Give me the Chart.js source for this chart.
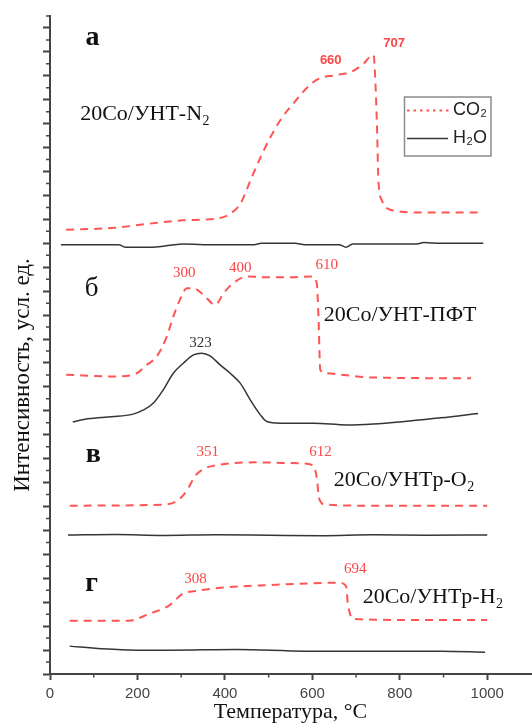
<!DOCTYPE html>
<html lang="ru">
<head>
<meta charset="utf-8">
<title>ТПО 20Co/УНТ</title>
<script src="https://cdn.jsdelivr.net/npm/chart.js@4.4.1/dist/chart.umd.min.js"></script>
<style>
    html, body { margin: 0; padding: 0; background: #fff; }
    canvas { display: block; }
</style>
</head>
<body>
<canvas id="tpoChart" width="532" height="725"></canvas>
<script>
// ---- данные (температура, °C / интенсивность, усл. ед. со смещением панелей) ----

// а: 20Co/УНТ-N2
const tempA_CO2 = [37, 149, 227, 304, 382, 413, 436, 459, 483, 506, 529, 560, 591, 615, 653, 692, 715, 740, 744, 748, 751, 759, 778, 854, 991];
const intA_CO2  = [37.13, 37.30, 37.64, 37.92, 38.07, 38.49, 39.34, 41.32, 43.31, 45.00, 46.42, 47.84, 49.12, 49.77, 50.05, 50.39, 50.96, 51.75, 49.6, 45.5, 41.3, 39.6, 38.8, 38.57, 38.57];
const tempA_H2O = [25, 157, 172, 235, 304, 351, 467, 483, 560, 583, 661, 677, 692, 739, 839, 855, 894, 991];
const intA_H2O  = [35.89, 35.89, 35.67, 35.67, 35.95, 35.89, 35.89, 36.0, 36.0, 35.89, 35.89, 35.67, 35.95, 35.95, 35.95, 36.06, 36.0, 36.0];

// б: 20Co/УНТ-ПФТ
const tempB_CO2 = [37, 149, 196, 221, 244, 267, 282, 297, 313, 328, 351, 378, 397, 419, 450, 488, 549, 599, 610, 614, 618, 633, 671, 739, 963];
const intB_CO2  = [25.01, 24.87, 25.09, 25.84, 26.53, 28.20, 29.87, 31.27, 32.25, 32.25, 31.69, 30.85, 31.83, 32.67, 33.22, 33.17, 33.17, 33.22, 32.67, 29.87, 25.42, 25.14, 25.0, 24.78, 24.72];
const tempB_H2O = [52, 87, 141, 188, 214, 236, 259, 282, 305, 328, 347, 366, 389, 412, 435, 458, 481, 496, 526, 603, 679, 739, 816, 894, 979];
const intB_H2O  = [21.07, 21.33, 21.50, 21.70, 22.07, 22.63, 23.75, 25.14, 25.98, 26.67, 26.81, 26.59, 25.84, 25.14, 24.31, 22.91, 21.66, 21.10, 20.96, 20.96, 20.82, 20.9, 21.13, 21.41, 21.78];

// в: 20Co/УНТр-O2
const tempC_CO2 = [45, 258, 289, 312, 332, 351, 390, 467, 576, 603, 611, 615, 630, 739, 1000];
const intC_CO2  = [14.07, 14.16, 14.44, 15.28, 16.56, 17.13, 17.50, 17.69, 17.61, 17.41, 16.14, 14.72, 14.16, 14.07, 14.07];
const tempC_H2O = [41, 150, 260, 380, 500, 620, 740, 860, 1000];
const intC_H2O  = [11.61, 11.66, 11.58, 11.64, 11.6, 11.56, 11.63, 11.6, 11.62];

// г: 20Co/УНТр-H2
const tempD_CO2 = [45, 180, 227, 273, 304, 332, 390, 506, 661, 677, 681, 684, 692, 816, 1000];
const intD_CO2  = [4.46, 4.46, 5.03, 5.74, 6.72, 6.93, 7.21, 7.44, 7.63, 7.35, 5.94, 5.31, 4.60, 4.52, 4.52];
const tempD_H2O = [45, 118, 196, 273, 428, 584, 739, 894, 995];
const intD_H2O  = [2.33, 2.11, 1.99, 1.99, 2.05, 1.91, 1.91, 1.91, 1.82];

// оси
const xTicksMajor = [0, 200, 400, 600, 800, 1000];
const xTicksMinor = [100, 300, 500, 700, 900];
const xTitle = 'Температура, °C';
const yTitle = 'Интенсивность, усл. ед.';

// подписи на графике: t — температура, v — интенсивность
const notes = [
    { text: 'а', t: 97, v: 52.6, font: 'bold 28px "Liberation Serif"', color: '#111', align: 'center', base: 'alphabetic' },
    { text: '20Co/УНТ-N_2', t: 69, v: 46.3, font: '22px "Liberation Serif"', color: '#111', align: 'left', base: 'alphabetic' },
    { text: '660', t: 642, v: 51.3, font: 'bold 13px "Liberation Sans"', color: '#ff4545', align: 'center', base: 'middle' },
    { text: '707', t: 787, v: 52.7, font: 'bold 13px "Liberation Sans"', color: '#ff4545', align: 'center', base: 'middle' },

    { text: 'б', t: 95, v: 31.6, font: '27px "Liberation Serif"', color: '#111', align: 'center', base: 'alphabetic' },
    { text: '20Co/УНТ-ПФТ', t: 626, v: 29.5, font: '22px "Liberation Serif"', color: '#111', align: 'left', base: 'alphabetic' },
    { text: '300', t: 307, v: 33.5, font: '15px "Liberation Serif"', color: '#ff4545', align: 'center', base: 'middle' },
    { text: '400', t: 435, v: 33.9, font: '15px "Liberation Serif"', color: '#ff4545', align: 'center', base: 'middle' },
    { text: '610', t: 633, v: 34.2, font: '15px "Liberation Serif"', color: '#ff4545', align: 'center', base: 'middle' },
    { text: '323', t: 344, v: 27.65, font: '15px "Liberation Serif"', color: '#333', align: 'center', base: 'middle' },

    { text: 'в', t: 99, v: 17.7, font: 'bold 28px "Liberation Serif"', color: '#111', align: 'center', base: 'alphabetic' },
    { text: '20Co/УНТр-O_2', t: 649, v: 15.7, font: '22px "Liberation Serif"', color: '#111', align: 'left', base: 'alphabetic' },
    { text: '351', t: 361, v: 18.55, font: '15px "Liberation Serif"', color: '#ff4545', align: 'center', base: 'middle' },
    { text: '612', t: 618.5, v: 18.55, font: '15px "Liberation Serif"', color: '#ff4545', align: 'center', base: 'middle' },

    { text: 'г', t: 95, v: 6.94, font: 'bold 28px "Liberation Serif"', color: '#111', align: 'center', base: 'alphabetic' },
    { text: '20Co/УНТр-H_2', t: 715, v: 5.94, font: '22px "Liberation Serif"', color: '#111', align: 'left', base: 'alphabetic' },
    { text: '308', t: 333, v: 7.92, font: '15px "Liberation Serif"', color: '#ff4545', align: 'center', base: 'middle' },
    { text: '694', t: 698, v: 8.78, font: '15px "Liberation Serif"', color: '#ff4545', align: 'center', base: 'middle' }
];

const CO2_COLOR = '#ff5454';
const H2O_COLOR = '#353535';
const AXIS_COLOR = '#444';

// ---- вспомогательные функции ----

function toPoints(temps, values) {
    return temps.map(function(t, i) { return { x: t, y: values[i] }; });
}

function co2Set(temps, values) {
    return {
        label: 'CO2',
        data: toPoints(temps, values),
        borderColor: CO2_COLOR,
        borderWidth: 2,
        borderDash: [8, 6],
        pointRadius: 0,
        cubicInterpolationMode: 'monotone',
        fill: false
    };
}

function h2oSet(temps, values) {
    return {
        label: 'H2O',
        data: toPoints(temps, values),
        borderColor: H2O_COLOR,
        borderWidth: 1.5,
        pointRadius: 0,
        cubicInterpolationMode: 'monotone',
        fill: false
    };
}

// текст с нижними индексами: "_2" -> индекс
function drawRich(ctx, str, x, y, font, align) {
    const parts = [];
    for (let i = 0; i < str.length; i++) {
        if (str[i] === '_' && i + 1 < str.length) {
            parts.push({ t: str[i + 1], sub: true });
            i++;
        } else {
            parts.push({ t: str[i], sub: false });
        }
    }
    const size = parseFloat(font.match(/(\d+(\.\d+)?)px/)[1]);
    const subFont = font.replace(/\d+(\.\d+)?px/, Math.round(size * 0.62) + 'px');
    let total = 0;
    parts.forEach(function(p) {
        ctx.font = p.sub ? subFont : font;
        p.w = ctx.measureText(p.t).width + (p.sub ? 1 : 0);
        total += p.w;
    });
    let cx = align === 'center' ? x - total / 2 : (align === 'right' ? x - total : x);
    ctx.textAlign = 'left';
    parts.forEach(function(p) {
        ctx.font = p.sub ? subFont : font;
        ctx.fillText(p.t, cx + (p.sub ? 0.5 : 0), p.sub ? y + size * 0.22 : y);
        cx += p.w;
    });
}

// мелкие деления, подписи, легенда и заголовок оси Y
const decorPlugin = {
    id: 'decor',
    afterDraw: function(chart) {
        const ctx = chart.ctx;
        const xs = chart.scales.x, ys = chart.scales.y;
        const area = chart.chartArea;
        ctx.save();

        // мелкие деления
        ctx.strokeStyle = AXIS_COLOR;
        ctx.lineWidth = 1.5;
        ctx.beginPath();
        xTicksMinor.forEach(function(v) {
            const px = xs.getPixelForValue(v);
            ctx.moveTo(px, area.bottom);
            ctx.lineTo(px, area.bottom + 3.5);
        });
        for (let v = 1; v <= 55; v += 2) {
            const py = ys.getPixelForValue(v);
            ctx.moveTo(area.left, py);
            ctx.lineTo(area.left - 4, py);
        }
        ctx.stroke();

        // подписи
        notes.forEach(function(n) {
            ctx.fillStyle = n.color;
            ctx.textBaseline = n.base;
            drawRich(ctx, n.text, xs.getPixelForValue(n.t), ys.getPixelForValue(n.v), n.font, n.align);
        });

        // легенда
        ctx.strokeStyle = '#8c8c8c';
        ctx.lineWidth = 1.5;
        ctx.strokeRect(404.5, 97, 86.5, 59);
        ctx.strokeStyle = CO2_COLOR;
        ctx.lineWidth = 2;
        ctx.setLineDash([2.5, 4]);
        ctx.beginPath();
        ctx.moveTo(407, 110.5);
        ctx.lineTo(450, 110.5);
        ctx.stroke();
        ctx.setLineDash([]);
        ctx.strokeStyle = H2O_COLOR;
        ctx.lineWidth = 1.5;
        ctx.beginPath();
        ctx.moveTo(407, 138.5);
        ctx.lineTo(448, 138.5);
        ctx.stroke();
        ctx.fillStyle = '#222';
        ctx.textBaseline = 'middle';
        drawRich(ctx, 'CO_2', 453, 110, '18px "Liberation Sans"', 'left');
        drawRich(ctx, 'H_2O', 453, 138, '18px "Liberation Sans"', 'left');

        // заголовок оси Y
        ctx.translate(23, 375);
        ctx.rotate(-Math.PI / 2);
        ctx.fillStyle = '#111';
        ctx.font = '23px "Liberation Serif"';
        ctx.textAlign = 'center';
        ctx.textBaseline = 'middle';
        ctx.fillText(yTitle, 0, 0);
        ctx.restore();
    }
};

// ---- график ----
document.addEventListener('DOMContentLoaded', function() {
    const ctx = document.getElementById('tpoChart').getContext('2d');
    window.tpoChart = new Chart(ctx, {
        type: 'line',
        data: {
            datasets: [
                co2Set(tempA_CO2, intA_CO2), h2oSet(tempA_H2O, intA_H2O),
                co2Set(tempB_CO2, intB_CO2), h2oSet(tempB_H2O, intB_H2O),
                co2Set(tempC_CO2, intC_CO2), h2oSet(tempC_H2O, intC_H2O),
                co2Set(tempD_CO2, intD_CO2), h2oSet(tempD_H2O, intD_H2O)
            ]
        },
        options: {
            responsive: false,
            animation: false,
            layout: { padding: { top: 16, right: 1, left: 0, bottom: 0 } },
            plugins: {
                legend: { display: false },
                tooltip: { enabled: false }
            },
            scales: {
                x: {
                    type: 'linear',
                    min: 0,
                    max: 1100,
                    afterFit: function(scale) { scale.height = 51; },
                    border: { display: true, color: AXIS_COLOR, width: 2 },
                    grid: { drawOnChartArea: false, drawTicks: true, tickLength: 6, tickColor: AXIS_COLOR, tickWidth: 2 },
                    ticks: {
                        stepSize: 200,
                        includeBounds: false,
                        padding: 5,
                        color: '#444',
                        font: { family: '"Liberation Sans"', size: 15 },
                        maxRotation: 0,
                        callback: function(value) {
                            return xTicksMajor.indexOf(value) >= 0 ? String(value) : '';
                        }
                    },
                    title: {
                        display: true,
                        text: xTitle,
                        color: '#111',
                        font: { family: '"Liberation Serif"', size: 22 },
                        padding: { top: 0, bottom: 0 }
                    }
                },
                y: {
                    type: 'linear',
                    min: 0,
                    max: 55,
                    afterFit: function(scale) { scale.width = 50; },
                    border: { display: true, color: AXIS_COLOR, width: 2 },
                    grid: { drawOnChartArea: false, drawTicks: true, tickLength: 7, tickColor: AXIS_COLOR, tickWidth: 2 },
                    ticks: {
                        stepSize: 2,
                        includeBounds: false,
                        display: false
                    }
                }
            }
        },
        plugins: [decorPlugin]
    });
});
</script>
</body>
</html>
